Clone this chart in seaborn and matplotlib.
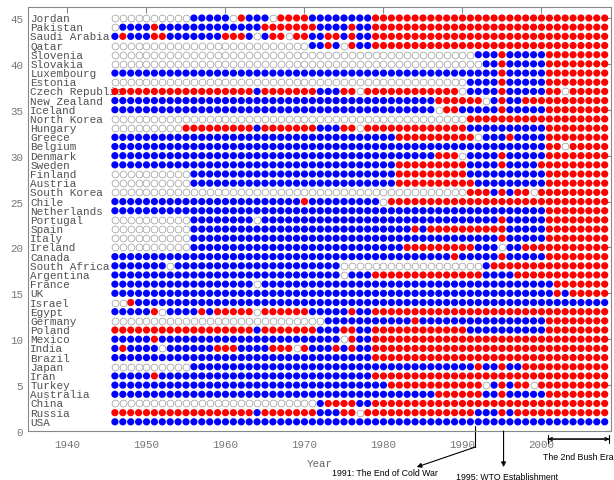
import matplotlib
matplotlib.use("Agg")
import matplotlib.pyplot as plt
import seaborn as sns
import pandas as pd

# rows from bottom (1) to top (45)
countries = ['USA', 'Russia', 'China', 'Australia', 'Turkey', 'Iran', 'Japan', 'Brazil',
             'India', 'Mexico', 'Poland', 'Germany', 'Egypt', 'Israel', 'UK', 'France',
             'Argentina', 'South Africa', 'Canada', 'Ireland', 'Italy', 'Spain', 'Portugal',
             'Netherlands', 'Chile', 'South Korea', 'Austria', 'Finland', 'Sweden', 'Denmark',
             'Belgium', 'Greece', 'Hungary', 'North Korea', 'Iceland', 'New Zealand',
             'Czech Republic', 'Estonia', 'Luxembourg', 'Slovakia', 'Slovenia', 'Qatar',
             'Saudi Arabia', 'Pakistan', 'Jordan']

years = list(range(1946, 2009))

# run-length codes per country, 1946 -> 2008 (b = blue, r = red, o = open)
codes = [
    "b63",                                                        # USA
    "r18 b1 r7 b3 r2 o1 r14 b3 r1 b1 r12",                         # Russia
    "o26 b1 r4 b2 r30",                                           # China
    "b41 r6 b2 r1 b5 r8",                                         # Australia
    "b35 r12 o1 b1 r1 b1 r2 o1 r9",                               # Turkey
    "b5 r1 b27 r30",                                              # Iran
    "o10 b36 r1 b2 r1 b2 r11",                                    # Japan
    "b33 r30",                                                    # Brazil
    "b1 r1 b4 o1 b6 r3 b4 r3 o1 r1 b3 r1 b1 r1 b2 r30",           # India
    "b5 r1 b23 o1 r1 b2 r30",                                     # Mexico
    "r18 b1 r7 b3 r2 b2 r12 b10 r8",                              # Poland
    "o27 b11 r1 b16 r8",                                          # Germany
    "b5 r1 o1 b4 r1 b1 r5 o1 r6 b5 r1 b2 r30",                    # Egypt
    "o2 r1 b60",                                                  # Israel
    "b56 r1 b1 r5",                                               # UK
    "b18 o1 b37 r7",                                              # France
    "b29 o1 b3 r14 b4 r12",                                       # Argentina
    "b7 o1 b21 o18 b1 r15",                                       # South Africa
    "b43 r1 b5 r1 b5 r8",                                         # Canada
    "o10 b27 r9 b3 o1 b2 r11",                                    # Ireland
    "o10 b39 r1 b5 r8",                                           # Italy
    "o10 b28 r1 b1 r10 b5 r8",                                    # Spain
    "o10 b8 o1 b30 r1 b5 r8",                                     # Portugal
    "b55 r8",                                                     # Netherlands
    "b24 r1 b9 o1 r28",                                           # Chile
    "o45 r3 b1 r1 b1 r2 o1 r9",                                   # South Korea
    "o10 b26 r10 b9 r8",                                          # Austria
    "o10 b26 r9 b10 r8",                                          # Finland
    "b36 r9 b4 r1 b4 r9",                                         # Sweden
    "b41 r3 o1 b4 r1 b5 r8",                                      # Denmark
    "b55 r2 o1 r5",                                               # Belgium
    "b36 r10 o1 b3 r1 b4 r8",                                     # Greece
    "o9 r9 b1 r7 b3 r2 o1 r13 b10 r8",                            # Hungary
    "o45 r18",                                                    # North Korea
    "b41 o1 r2 b5 r1 b5 r8",                                      # Iceland
    "b41 r6 o1 b1 r1 b2 r11",                                     # New Zealand
    "r18 b1 r7 b3 r2 o1 r12 o1 b4 r1 b5 r2 o1 r5",                # Czech Republic
    "o45 b4 r1 b5 r8",                                            # Estonia
    "b49 r1 b5 r8",                                               # Luxembourg
    "o47 b2 r1 b5 r8",                                            # Slovakia
    "o46 b3 r1 b5 r8",                                            # Slovenia
    "o25 b2 r1 b1 o1 r1 b2 r30",                                  # Qatar
    "b1 r1 b3 r2 b7 r3 b1 o1 b1 r2 o1 r2 b2 r2 b1 r1 b2 r30",     # Saudi Arabia
    "o1 b4 r1 b13 r7 b4 r1 b2 r30",                               # Pakistan
    "o10 b5 o1 r1 b3 o1 r4 b8 r30",                               # Jordan
]


def decode(code):
    out = ""
    for tok in code.split():
        out += tok[0] * int(tok[1:])
    if len(out) != len(years):
        print("length mismatch", len(out), code)
        out = (out + "o" * len(years))[:len(years)]
    return out


records = []
for i, (name, code) in enumerate(zip(countries, codes)):
    for yr, st in zip(years, decode(code)):
        records.append({"country": name, "row": i + 1, "year": yr, "status": st})
df = pd.DataFrame(records)

sns.set_style("white")
mono = ["Liberation Mono", "DejaVu Sans Mono"]
sans = ["Liberation Sans", "DejaVu Sans"]

fig = plt.figure(figsize=(6.14, 4.81), dpi=100)
ax = fig.add_axes([28 / 614, 49 / 481, 583 / 614, 424 / 481])

filled = df[df["status"] != "o"]
sns.scatterplot(data=filled, x="year", y="row", hue="status",
                palette={"b": "#0000ff", "r": "#ff0000"}, s=27, linewidth=0,
                legend=False, ax=ax, zorder=3)
opened = df[df["status"] == "o"]
sns.scatterplot(data=opened, x="year", y="row", s=24, color="white",
                edgecolor="#a0a0a0", linewidth=0.55, legend=False, ax=ax, zorder=3)

for i, name in enumerate(countries):
    ax.text(1935.3, i + 1, name, ha="left", va="center", family=mono,
            fontsize=7.9, color="#505050", zorder=1)

ax.set_xlim(1935, 2008.8)
ax.set_ylim(0, 46.2)
ax.set_xticks(range(1940, 2001, 10))
ax.set_yticks(range(0, 46, 5))
ax.tick_params(direction="in", top=True, right=True, length=4, width=0.8,
               color="#888888", labelcolor="#777777", labelsize=7.8)
ax.tick_params(axis="x", pad=6)
for lab in ax.get_xticklabels() + ax.get_yticklabels():
    lab.set_family(mono)
for sp in ax.spines.values():
    sp.set_color("#888888")
    sp.set_linewidth(0.8)
ax.set_xlabel("Year", family=mono, fontsize=7.8, color="#666666", labelpad=6)
ax.set_ylabel("")

tr = ax.get_xaxis_transform()
note_size = 6.3
# 1991
ax.plot([1991.6, 1991.6], [0.012, -0.038], transform=tr, clip_on=False,
        color="black", lw=0.8)
ax.annotate("", xy=(1984.2, -0.085), xycoords=tr, xytext=(1991.6, -0.038),
            textcoords=tr, annotation_clip=False,
            arrowprops=dict(arrowstyle="-|>", color="black", lw=0.8,
                            shrinkA=0, shrinkB=0, mutation_scale=7))
ax.text(1986.9, -0.098, "1991: The End of Cold War", transform=tr, ha="right",
        va="center", family=sans, fontsize=note_size, color="black")
# 1995
ax.annotate("", xy=(1995.2, -0.085), xycoords=tr, xytext=(1995.2, 0.0),
            textcoords=tr, annotation_clip=False,
            arrowprops=dict(arrowstyle="-|>", color="black", lw=0.8,
                            shrinkA=0, shrinkB=0, mutation_scale=7))
ax.text(1995.6, -0.097, "1995: WTO Establishment", transform=tr, ha="center",
        va="top", family=sans, fontsize=note_size, color="black")
# Bush era
ax.annotate("", xy=(2000.8, -0.019), xycoords=tr, xytext=(2008.6, -0.019),
            textcoords=tr, annotation_clip=False,
            arrowprops=dict(arrowstyle="|-|", color="black", lw=0.8,
                            shrinkA=0, shrinkB=0, mutation_scale=3))
ax.annotate("", xy=(2000.8, -0.019), xycoords=tr, xytext=(2008.6, -0.019),
            textcoords=tr, annotation_clip=False,
            arrowprops=dict(arrowstyle="<->", color="black", lw=0.8,
                            shrinkA=0, shrinkB=0, mutation_scale=6))
ax.text(2004.6, -0.059, "The 2nd Bush Era", transform=tr, ha="center",
        va="center", family=sans, fontsize=note_size, color="black")

fig.savefig("out.png", dpi=100)
